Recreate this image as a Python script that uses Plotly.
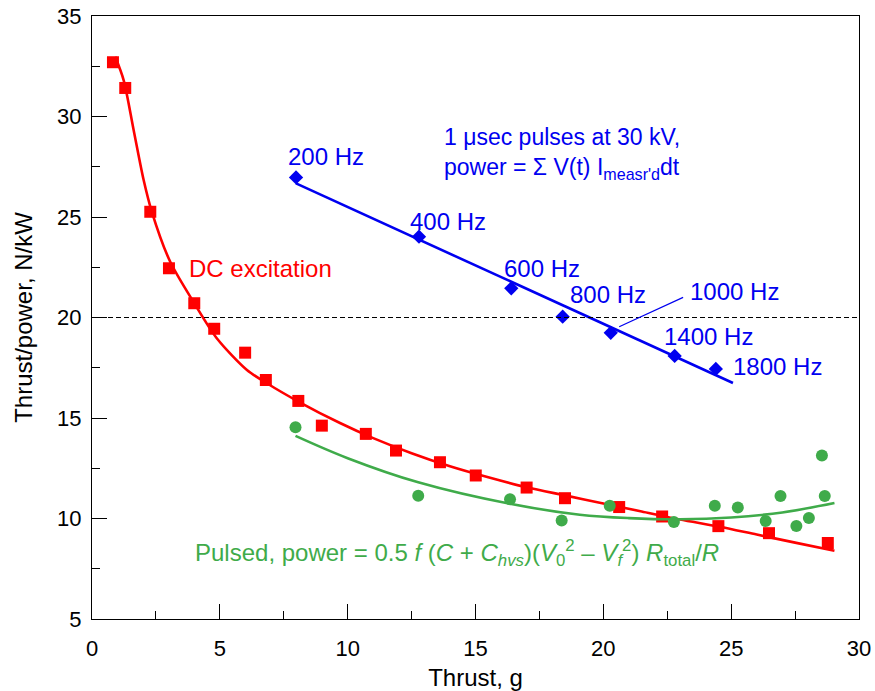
import plotly.graph_objects as go

# ---- data ----
dc_x = [0.82, 1.30, 2.28, 3.01, 4.00, 4.78, 5.99, 6.80, 8.07, 8.99, 10.71, 11.89, 13.61, 15.01,
        17.00, 18.50, 20.62, 22.30, 24.50, 26.48, 28.78]
dc_y = [32.70, 31.42, 25.26, 22.45, 20.71, 19.44, 18.25, 16.89, 15.85, 14.62, 14.21, 13.38, 12.80,
        12.14, 11.54, 11.01, 10.57, 10.10, 9.62, 9.27, 8.78]

dc_fit_x = [0.91, 1.24, 1.63, 2.02, 2.34, 3.06, 4.00, 4.88, 6.06, 6.84, 8.07, 9.70, 11.0, 12.5,
            14.0, 15.5, 17.0, 18.5, 20.0, 21.5, 23.0, 24.5, 26.0, 27.5, 29.04]
dc_fit_y = [32.97, 31.80, 29.32, 26.84, 25.26, 22.77, 20.71, 18.97, 17.39, 16.73, 15.82, 14.75,
            14.00, 13.25, 12.60, 12.05, 11.55, 11.15, 10.75, 10.35, 9.95, 9.60, 9.20, 8.80, 8.40]

pulsed_x = [7.96, 12.76, 16.35, 18.37, 20.25, 22.76, 24.36, 25.26, 26.35, 26.93, 27.55, 28.04,
            28.55, 28.66]
pulsed_y = [14.54, 11.13, 10.96, 9.90, 10.63, 9.82, 10.63, 10.55, 9.88, 11.12, 9.63, 10.03,
            13.13, 11.12]

pulsed_fit_x = [7.96, 10.0, 12.76, 16.35, 19.08, 21.0, 23.0, 25.0, 27.0, 29.04]
pulsed_fit_y = [14.11, 13.00, 11.80, 10.73, 10.19, 10.02, 9.96, 10.05, 10.30, 10.77]

freq_labels = ["200 Hz", "400 Hz", "600 Hz", "800 Hz", "1000 Hz", "1400 Hz", "1800 Hz"]
freq_x = [7.98, 12.79, 16.40, 18.41, 20.29, 22.79, 24.40]
freq_y = [26.97, 24.02, 21.45, 20.04, 19.24, 18.09, 17.44]

freq_fit_x = [7.98, 25.07]
freq_fit_y = [26.67, 16.74]

x_ticks = [0, 5, 10, 15, 20, 25, 30]
y_ticks = [5, 10, 15, 20, 25, 30, 35]

RED = "#ff0000"
GREEN = "#3fab4a"
BLUE = "#0000f0"
FONT = "Liberation Sans, Arial, sans-serif"
FS_TICK = 22
FS_TEXT = 24

fig = go.Figure()

fig.add_trace(go.Scatter(x=dc_fit_x, y=dc_fit_y, mode="lines",
                         line=dict(color=RED, width=2.6, shape="spline", smoothing=0.8),
                         showlegend=False, hoverinfo="skip"))
fig.add_trace(go.Scatter(x=dc_x, y=dc_y, mode="markers",
                         marker=dict(symbol="square", size=12, color=RED),
                         showlegend=False))

fig.add_trace(go.Scatter(x=pulsed_fit_x, y=pulsed_fit_y, mode="lines",
                         line=dict(color=GREEN, width=2.6, shape="spline", smoothing=1.0),
                         showlegend=False, hoverinfo="skip"))
fig.add_trace(go.Scatter(x=pulsed_x, y=pulsed_y, mode="markers",
                         marker=dict(symbol="circle", size=12, color=GREEN),
                         showlegend=False))

fig.add_trace(go.Scatter(x=freq_fit_x, y=freq_fit_y, mode="lines",
                         line=dict(color=BLUE, width=2.6),
                         showlegend=False, hoverinfo="skip"))
fig.add_trace(go.Scatter(x=freq_x, y=freq_y, mode="markers",
                         marker=dict(symbol="diamond", size=11, color=BLUE),
                         text=freq_labels, showlegend=False))

# dashed reference line at 20 N/kW
fig.add_shape(type="line", xref="paper", x0=0, x1=1, yref="y", y0=20, y1=20,
              line=dict(color="black", width=1.2, dash="5px,3px"))

# leader line for 1000 Hz
fig.add_shape(type="line", x0=20.62, y0=19.54, x1=23.12, y1=21.0,
              line=dict(color=BLUE, width=1.2))

def ann(x, y, text, color, size=FS_TEXT):
    fig.add_annotation(x=x, y=y, text=text, showarrow=False, xanchor="left", yanchor="middle",
                       font=dict(family=FONT, size=size, color=color))

# frequency labels
label_pos = [(7.60, 27.99), (12.37, 24.76), (16.05, 22.45), (18.62, 21.12),
             (23.31, 21.28), (22.30, 19.05), (25.00, 17.54)]
for lab, (lx, ly) in zip(freq_labels, label_pos):
    ann(lx, ly, lab, BLUE)

ann(3.72, 22.46, "DC excitation", RED)
ann(13.70, 29.0, "1 \u03bcsec pulses at 30 kV,", BLUE, 23)
ann(13.70, 27.42, "power = \u03a3 V(t) I<sub>measr'd</sub>dt", BLUE, 23)
ann(3.96, 8.30, "Pulsed, power = 0.5 <i>f</i> (<i>C</i> + <i>C</i><sub><i>hvs</i></sub>)"
                "(<i>V</i><sub>0</sub><sup>2</sup> \u2013 <i>V</i><sub><i>f</i></sub><sup>2</sup>) "
                "<i>R</i><sub>total</sub>/<i>R</i>", GREEN)

axis_common = dict(showline=True, linecolor="black", linewidth=1.3, mirror=True,
                   showgrid=False, zeroline=False, ticks="inside", ticklen=15,
                   tickwidth=1.3, tickcolor="black",
                   tickfont=dict(family=FONT, size=FS_TICK, color="black"))

fig.update_xaxes(range=[0, 30], tickvals=x_ticks, ticktext=[str(v) for v in x_ticks],
                 ticklabelstandoff=9,
                 minor=dict(ticks="inside", ticklen=8, tickwidth=1.3, tickcolor="black",
                            tick0=0, dtick=2.5),
                 title=dict(text="Thrust, g", font=dict(family=FONT, size=FS_TEXT, color="black"),
                            standoff=28),
                 **axis_common)
fig.update_yaxes(range=[5, 35], tickvals=y_ticks, ticktext=[str(v) for v in y_ticks],
                 ticklabelstandoff=5,
                 minor=dict(ticks="inside", ticklen=8, tickwidth=1.3, tickcolor="black",
                            tick0=0, dtick=2.5),
                 title=dict(text="Thrust/power, N/kW", font=dict(family=FONT, size=FS_TEXT, color="black"),
                            standoff=17),
                 **axis_common)

fig.update_layout(width=875, height=691,
                  margin=dict(l=92, r=16, t=16, b=72, autoexpand=False),
                  paper_bgcolor="white", plot_bgcolor="white",
                  font=dict(family=FONT, size=FS_TICK, color="black"),
                  showlegend=False)

# remove the page's default 8px body margin so the figure fills the window exactly
fig.write_html("out.html", config={"displayModeBar": False},
               post_script="document.body.style.margin='0px';document.body.style.overflow='hidden';")
